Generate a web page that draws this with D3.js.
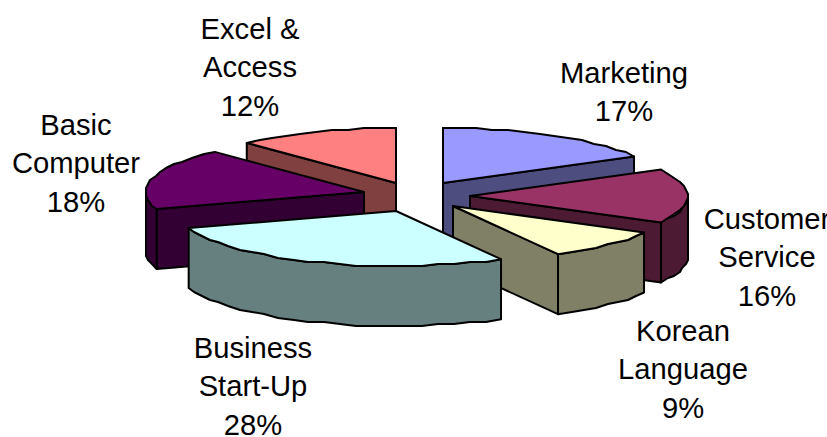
<!DOCTYPE html>
<html>
<head>
<meta charset="utf-8">
<script src="https://cdn.jsdelivr.net/npm/d3@7"></script>
<style>
html, body { margin: 0; padding: 0; background: #fff; }
svg { display: block; }
text { font-family: "Liberation Sans", Arial, sans-serif; font-size: 29.2px; fill: #000; }
</style>
</head>
<body>
<script>
var categories = ["Marketing", "Customer Service", "Korean Language", "Business Start-Up", "Basic Computer", "Excel & Access"]
var shares = [17, 16, 9, 28, 18, 12]
var labelLines = [["Marketing"], ["Customer", "Service"], ["Korean", "Language"], ["Business", "Start-Up"], ["Basic", "Computer"], ["Excel &", "Access"]]
var topColors = ["#9999ff", "#993366", "#ffffcc", "#ccffff", "#660066", "#ff8080"]

var width = 827, height = 437

// 3d look of the chart
var center = {x: 420, y: 196}
var rx = 218, ry = 55, depth = 60
// how far each slice is pulled out, and where its label block starts
var pull = [[23, -13], [50, 0], [33, 10], [-24, 15], [-56, -4], [-24, -13]]
var labelPos = [[624, 83], [767, 229], [683, 341], [253, 358], [76, 135], [250, 39]]
var drawOrder = [5, 0, 4, 1, 2, 3]

var svg = d3.select("body")
            .append("svg")
            .attr("width", width)
            .attr("height", height)

var pie = d3.pie().sort(null).value(function(d) {return d})
var slices = pie(shares)

var toPoint = function(c, a, dy)
{
  return [c.x + rx*Math.sin(a), c.y - ry*Math.cos(a) + dy]
}

// excel's arcs come out a bit wobbly, so coarse steps snapped to a grid
var rim = function(c, a0, a1, dy)
{
  var n = Math.max(2, Math.round(Math.abs(a1 - a0)/0.075))
  return d3.range(n + 1).map(function(i) {
    var p = toPoint(c, a0 + (a1 - a0)*i/n, dy)
    if (i == 0 || i == n) {return p}
    return [Math.round(p[0]/2)*2, Math.round(p[1]/2)*2]
  })
}

var line = d3.line()
var sideColor = function(col)
{
  var c = d3.rgb(col)
  return d3.rgb(c.r*0.5, c.g*0.5, c.b*0.5).formatHex()
}

var face = function(points, fill)
{
  svg.append("path")
     .attr("d", line(points) + "Z")
     .attr("fill", fill)
     .attr("stroke", "#000")
     .attr("stroke-width", 2)
     .attr("stroke-linejoin", "round")
}

drawOrder.forEach(function(i)
{
  var s = slices[i]
  var c = {x: center.x + pull[i][0], y: center.y + pull[i][1]}
  var side = sideColor(topColors[i])
  var apex = [c.x, c.y], apexLow = [c.x, c.y + depth]

  // radial walls, only the ones facing the viewer
  ;[[s.startAngle, -1], [s.endAngle, 1]].forEach(function(w) {
    var p = toPoint(c, w[0], 0), q = toPoint(c, w[0], depth)
    if (Math.cos(w[0] + w[1]*Math.PI/2) < 0.001) {
      face([apex, p, q, apexLow], side)
    }
  })

  // outer rim on the front half
  var a0 = Math.max(s.startAngle, Math.PI/2), a1 = Math.min(s.endAngle, Math.PI*1.5)
  if (a1 > a0) {
    face(rim(c, a0, a1, 0).concat(rim(c, a1, a0, depth)), side)
  }

  face([apex].concat(rim(c, s.startAngle, s.endAngle, 0)), topColors[i])
})

labelLines.forEach(function(lines, i)
{
  var rows = lines.concat([d3.format(".0%")(shares[i]/d3.sum(shares))])
  svg.append("g")
     .attr("class", "label")
     .attr("aria-label", categories[i])
     .selectAll("text")
     .data(rows)
     .enter()
     .append("text")
     .attr("x", labelPos[i][0])
     .attr("y", function(d, j) {return labelPos[i][1] + j*38.4})
     .attr("text-anchor", "middle")
     .text(function(d) {return d})
})
</script>
</body>
</html>
